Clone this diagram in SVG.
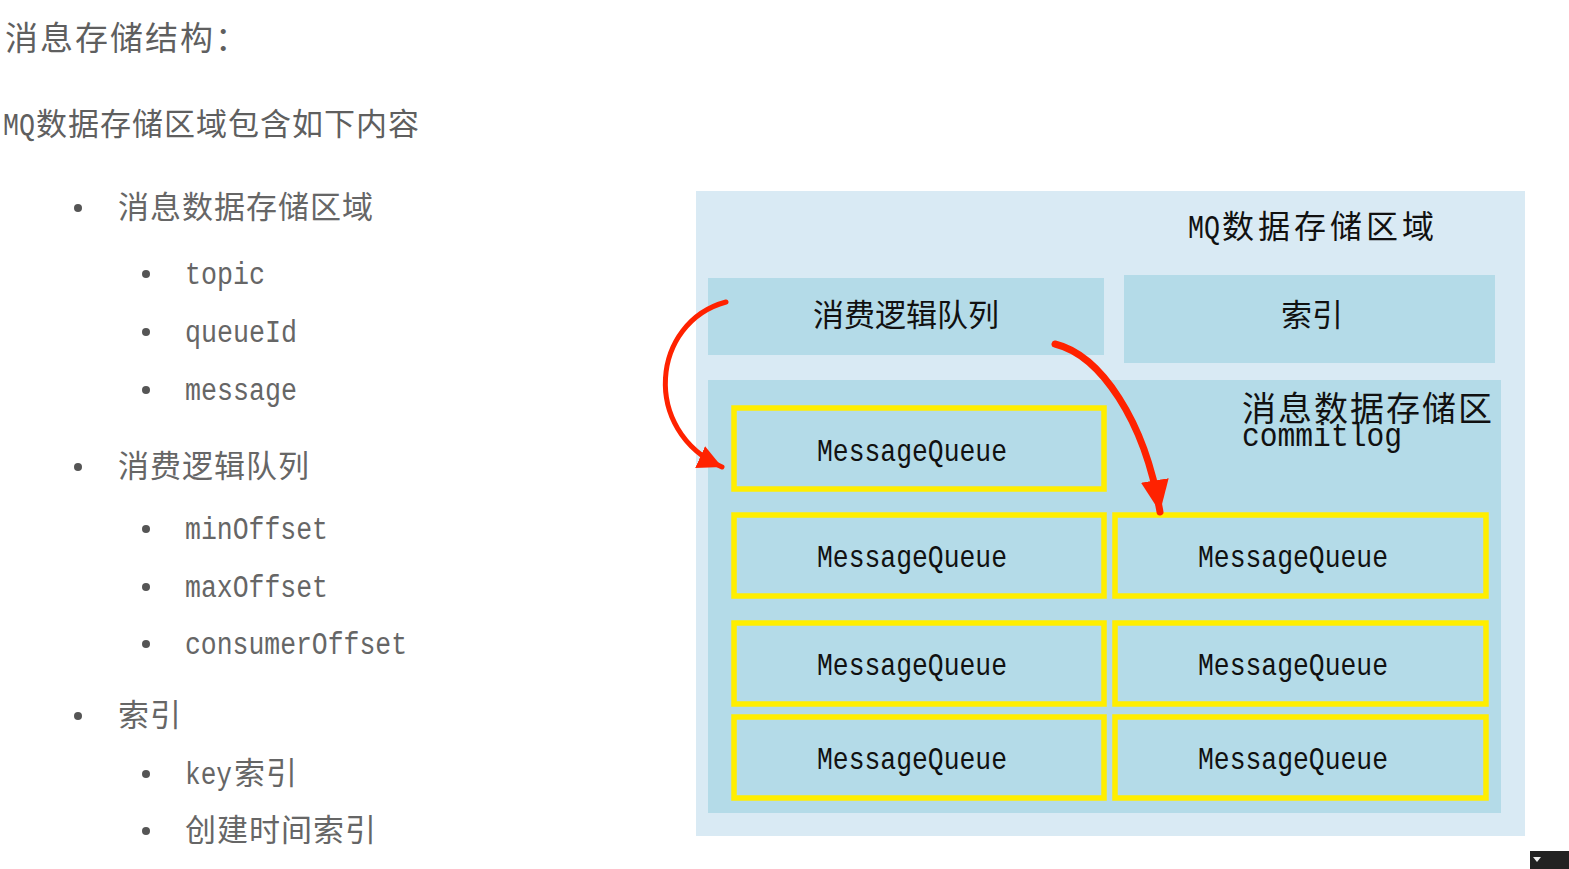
<svg xmlns="http://www.w3.org/2000/svg" width="1569" height="869" viewBox="0 0 1569 869">
<style>
.cjk{font-family:"Noto Sans CJK SC","Noto Sans CJK JP",sans-serif;}
.mono{font-family:"Liberation Mono","DejaVu Sans Mono",monospace;}
.gray{fill:#5f5f5f;}
.lt{fill:#666;}
.dk{fill:#111;}
.bul{fill:#555;}
.mq{fill:#b4dbe8;stroke:#ffee00;stroke-width:5.5;}
.box{fill:#b4dbe8;}
.arr{fill:none;stroke:#ff2200;stroke-linecap:round;}
</style>
<defs>
<marker id="ah" markerUnits="userSpaceOnUse" markerWidth="30" markerHeight="30" refX="24" refY="12" orient="auto">
<path d="M0,0 L24,12 L0,24 Z" fill="#ff2200"/>
</marker>
<marker id="ah2" markerUnits="userSpaceOnUse" markerWidth="40" markerHeight="40" refX="32" refY="14" orient="auto">
<path d="M0,0 L32,14 L0,28 Z" fill="#ff2200"/>
</marker>
</defs>
<rect width="1569" height="869" fill="#ffffff"/>

<g id="title">
<text class="cjk gray" x="5" y="50" font-size="33" letter-spacing="2">消息存储结构：</text>
<text class="mono gray" x="3" y="135" font-size="32" textLength="32" lengthAdjust="spacingAndGlyphs">MQ</text>
<text class="cjk gray" x="36" y="135" font-size="31" letter-spacing="1">数据存储区域包含如下内容</text>
</g>

<g id="list">
<circle class="bul" cx="78" cy="208" r="4"/>
<text class="cjk lt" x="118" y="218" font-size="31" letter-spacing="1">消息数据存储区域</text>
<circle class="bul" cx="146" cy="274" r="4"/>
<text class="mono lt" x="185" y="284" font-size="31" textLength="80" lengthAdjust="spacingAndGlyphs">topic</text>
<circle class="bul" cx="146" cy="332" r="4"/>
<text class="mono lt" x="185" y="342" font-size="31" textLength="112" lengthAdjust="spacingAndGlyphs">queueId</text>
<circle class="bul" cx="146" cy="390" r="4"/>
<text class="mono lt" x="185" y="400" font-size="31" textLength="112" lengthAdjust="spacingAndGlyphs">message</text>
<circle class="bul" cx="78" cy="467" r="4"/>
<text class="cjk lt" x="118" y="477" font-size="31" letter-spacing="1">消费逻辑队列</text>
<circle class="bul" cx="146" cy="529" r="4"/>
<text class="mono lt" x="185" y="539" font-size="31" textLength="143" lengthAdjust="spacingAndGlyphs">minOffset</text>
<circle class="bul" cx="146" cy="587" r="4"/>
<text class="mono lt" x="185" y="597" font-size="31" textLength="143" lengthAdjust="spacingAndGlyphs">maxOffset</text>
<circle class="bul" cx="146" cy="644" r="4"/>
<text class="mono lt" x="185" y="654" font-size="31" textLength="222" lengthAdjust="spacingAndGlyphs">consumerOffset</text>
<circle class="bul" cx="78" cy="716" r="4"/>
<text class="cjk lt" x="118" y="726" font-size="31" letter-spacing="1">索引</text>
<circle class="bul" cx="146" cy="774" r="4"/>
<text class="mono lt" x="185" y="784" font-size="31" textLength="47" lengthAdjust="spacingAndGlyphs">key</text>
<text class="cjk lt" x="234" y="784" font-size="31" letter-spacing="1">索引</text>
<circle class="bul" cx="146" cy="831" r="4"/>
<text class="cjk lt" x="185" y="841" font-size="31" letter-spacing="1">创建时间索引</text>
</g>

<g id="mq-area">
<rect x="696" y="191" width="829" height="645" fill="#d9eaf4"/>
<text class="mono dk" x="1188" y="238" font-size="33" textLength="32" lengthAdjust="spacingAndGlyphs">MQ</text>
<text class="cjk dk" x="1222" y="238" font-size="32" letter-spacing="4">数据存储区域</text>
</g>

<g id="consume-queue">
<rect class="box" x="708" y="278" width="396" height="77"/>
<text class="cjk dk" x="906" y="326" font-size="31" text-anchor="middle">消费逻辑队列</text>
</g>

<g id="index">
<rect class="box" x="1124" y="275" width="371" height="88"/>
<text class="cjk dk" x="1312" y="326" font-size="31" text-anchor="middle">索引</text>
</g>

<g id="commitlog">
<rect class="box" x="708" y="380" width="793" height="433"/>
<text class="cjk dk" x="1242" y="421" font-size="34" letter-spacing="2">消息数据存储区</text>
<text class="mono dk" x="1242" y="446" font-size="34" textLength="160" lengthAdjust="spacingAndGlyphs">commitlog</text>
</g>

<g id="mq1"><rect class="mq" x="734" y="408" width="370" height="81"/><text class="mono dk" x="912" y="461" font-size="32" text-anchor="middle" textLength="190" lengthAdjust="spacingAndGlyphs">MessageQueue</text></g>
<g id="mq2"><rect class="mq" x="734" y="515" width="370" height="81"/><text class="mono dk" x="912" y="567" font-size="32" text-anchor="middle" textLength="190" lengthAdjust="spacingAndGlyphs">MessageQueue</text></g>
<g id="mq3"><rect class="mq" x="1115" y="515" width="371" height="81"/><text class="mono dk" x="1293" y="567" font-size="32" text-anchor="middle" textLength="190" lengthAdjust="spacingAndGlyphs">MessageQueue</text></g>
<g id="mq4"><rect class="mq" x="734" y="623" width="370" height="81"/><text class="mono dk" x="912" y="675" font-size="32" text-anchor="middle" textLength="190" lengthAdjust="spacingAndGlyphs">MessageQueue</text></g>
<g id="mq5"><rect class="mq" x="1115" y="623" width="371" height="81"/><text class="mono dk" x="1293" y="675" font-size="32" text-anchor="middle" textLength="190" lengthAdjust="spacingAndGlyphs">MessageQueue</text></g>
<g id="mq6"><rect class="mq" x="734" y="717" width="370" height="81"/><text class="mono dk" x="912" y="769" font-size="32" text-anchor="middle" textLength="190" lengthAdjust="spacingAndGlyphs">MessageQueue</text></g>
<g id="mq7"><rect class="mq" x="1115" y="717" width="371" height="81"/><text class="mono dk" x="1293" y="769" font-size="32" text-anchor="middle" textLength="190" lengthAdjust="spacingAndGlyphs">MessageQueue</text></g>

<g id="connectors">
<path class="arr" stroke-width="5" d="M726,302 C652,322 640,430 722,467" marker-end="url(#ah)"/>
<path class="arr" stroke-width="7" d="M1055,344 C1100,355 1145,420 1160,512" marker-end="url(#ah2)"/>
</g>

<g id="player-toolbar">
<rect x="1530" y="851" width="39" height="18" fill="#222"/>
<path d="M1533,857 L1541,857 L1537,862 Z" fill="#eee"/>
</g>
</svg>
